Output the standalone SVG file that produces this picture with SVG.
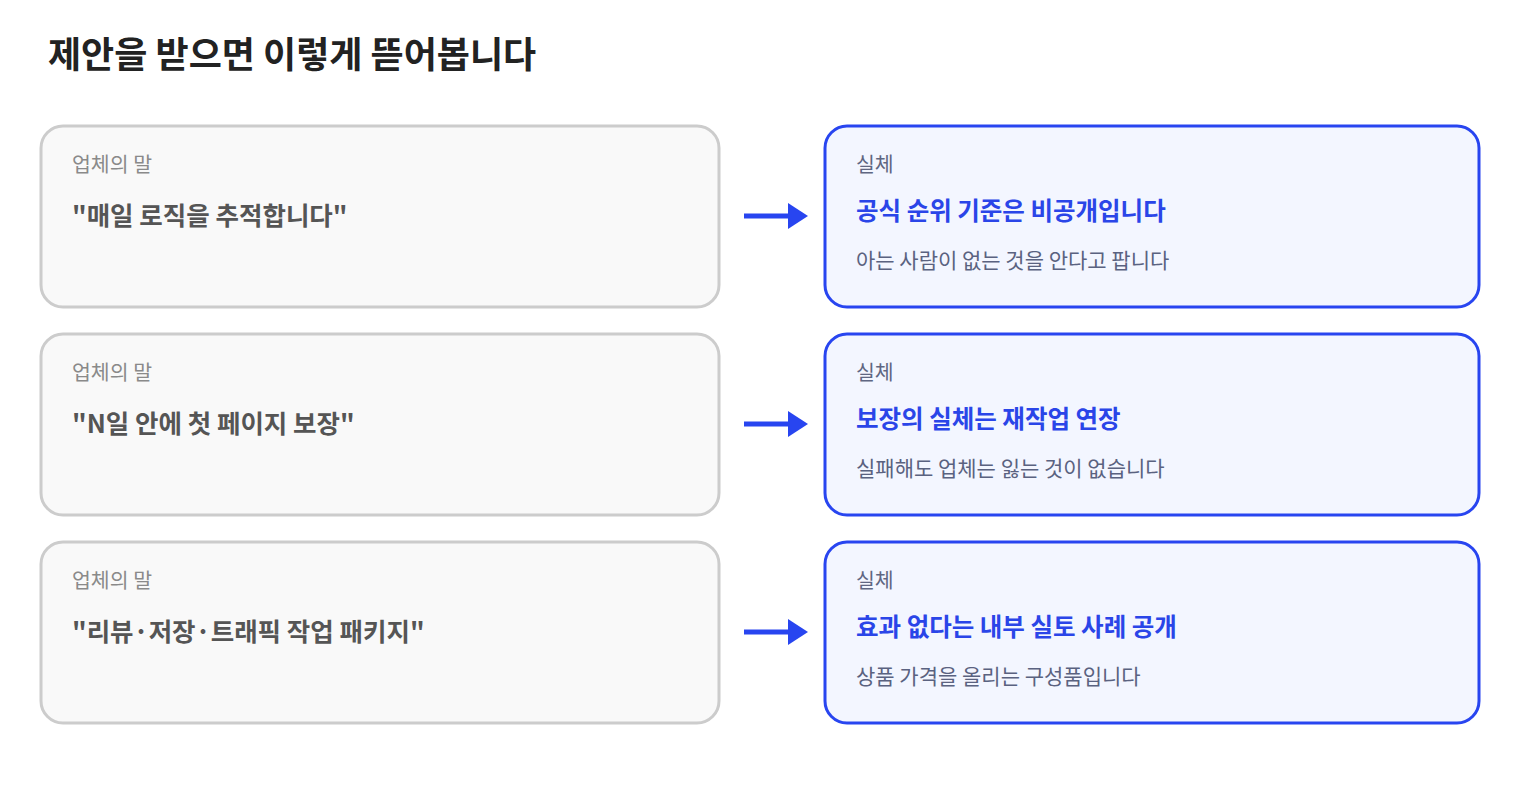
<svg xmlns="http://www.w3.org/2000/svg" width="1520" height="800" viewBox="0 0 1520 800">
<style>
text{font-family:"Noto Sans CJK KR","Noto Sans",sans-serif}
.t{font-size:36px;font-weight:700;fill:#222}
.lb{fill:#f9f9f9;stroke:#cccccc;stroke-width:3}
.rb{fill:#f3f6ff;stroke:#2845f0;stroke-width:3}
.ll{font-size:20.5px;fill:#8a8a8a}
.lq{font-size:25.5px;font-weight:700;fill:#555}
.rl{font-size:20.5px;fill:#5f6682}
.rh{font-size:24.5px;font-weight:700;fill:#2a45e8}
.rs{font-size:21px;fill:#5a6280}
.c{stroke:#2845f0;stroke-width:5;fill:none}
</style>
<text class="t" x="48" y="68">제안을 받으면 이렇게 뜯어봅니다</text>
<g id="l1"><rect class="lb" x="41" y="126" width="678" height="181" rx="22"/><text class="ll" x="72" y="172">업체의 말</text><text class="lq" x="72" y="225">"매일 로직을 추적합니다"</text></g>
<g id="l2"><rect class="lb" x="41" y="334" width="678" height="181" rx="22"/><text class="ll" x="72" y="380">업체의 말</text><text class="lq" x="72" y="433">"N일 안에 첫 페이지 보장"</text></g>
<g id="l3"><rect class="lb" x="41" y="542" width="678" height="181" rx="22"/><text class="ll" x="72" y="588">업체의 말</text><text class="lq" x="72" y="641">"리뷰·저장·트래픽 작업 패키지"</text></g>
<g id="r1"><rect class="rb" x="825" y="126" width="654" height="181" rx="22"/><text class="rl" x="856" y="172">실체</text><text class="rh" x="856" y="220">공식 순위 기준은 비공개입니다</text><text class="rs" x="856" y="268">아는 사람이 없는 것을 안다고 팝니다</text></g>
<g id="r2"><rect class="rb" x="825" y="334" width="654" height="181" rx="22"/><text class="rl" x="856" y="380">실체</text><text class="rh" x="856" y="428">보장의 실체는 재작업 연장</text><text class="rs" x="856" y="476">실패해도 업체는 잃는 것이 없습니다</text></g>
<g id="r3"><rect class="rb" x="825" y="542" width="654" height="181" rx="22"/><text class="rl" x="856" y="588">실체</text><text class="rh" x="856" y="636">효과 없다는 내부 실토 사례 공개</text><text class="rs" x="856" y="684">상품 가격을 올리는 구성품입니다</text></g>
<g id="connectors">
<path d="M744 216H788" class="c"/><path d="M788 203L808 216L788 229z" fill="#2845f0"/>
<path d="M744 424H788" class="c"/><path d="M788 411L808 424L788 437z" fill="#2845f0"/>
<path d="M744 632H788" class="c"/><path d="M788 619L808 632L788 645z" fill="#2845f0"/>
</g>
</svg>
